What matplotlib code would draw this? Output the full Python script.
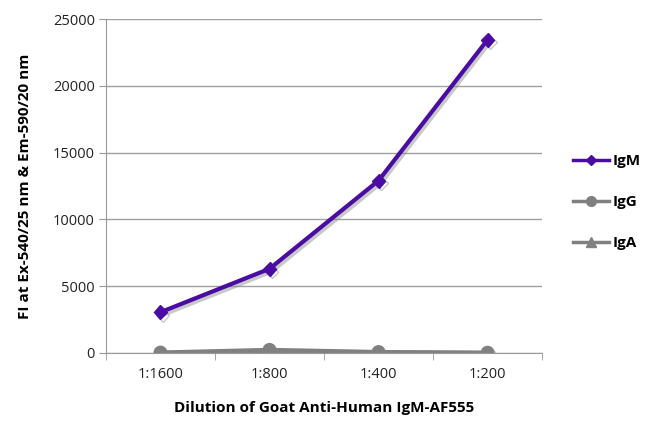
import matplotlib
matplotlib.use("Agg")
import matplotlib.pyplot as plt
import matplotlib.patheffects as pe
from matplotlib.lines import Line2D
import numpy as np

plt.rcParams['font.family'] = ['Open Sans', 'DejaVu Sans']

dilutions = ['1:1600', '1:800', '1:400', '1:200']
igm = [3050, 6300, 12900, 23450]
igg = [30, 230, 70, 20]
iga = [0, 120, 30, 0]

purple = '#4a0ca3'
gray = '#808080'
shadow = [pe.SimpleLineShadow(offset=(1.5, -2), shadow_color='#888888', alpha=0.45), pe.Normal()]

fig = plt.figure(figsize=(6.5, 4.32), dpi=100)
ax = fig.add_axes([0.163, 0.183, 0.671, 0.773])

x = np.arange(len(dilutions))
ax.plot(x, iga, color=gray, lw=3, marker='^', ms=8, path_effects=shadow, zorder=3)
ax.plot(x, igg, color=gray, lw=3, marker='o', ms=9, path_effects=shadow, zorder=4)
ax.plot(x, igm, color=purple, lw=3, marker='D', ms=7, path_effects=shadow, zorder=5)

ax.set_xlim(-0.5, len(dilutions) - 0.5)
ax.set_ylim(0, 25000)
ax.set_yticks(np.arange(0, 25001, 5000))
ax.set_xticks(x)
ax.set_xticklabels(dilutions)
ax.set_xticks(np.arange(-0.5, len(dilutions), 1), minor=True)
ax.tick_params(axis='x', which='major', length=0, labelsize=10.5, pad=10)
ax.tick_params(axis='x', which='minor', length=5, color='#999999', direction='out')
ax.tick_params(axis='y', length=5, color='#999999', labelsize=10.5, pad=3)
for lbl in ax.get_yticklabels() + ax.get_xticklabels():
    lbl.set_color('#222222')

ax.grid(axis='y', color='#a0a0a0', lw=1)
ax.set_axisbelow(True)
for s in ['top', 'right']:
    ax.spines[s].set_visible(False)
ax.spines['left'].set_color('#999999')
ax.spines['bottom'].set_color('#999999')

ax.set_xlabel('Dilution of Goat Anti-Human IgM-AF555', fontsize=11, fontweight='bold', labelpad=14)
ax.set_ylabel('FI at Ex-540/25 nm & Em-590/20 nm', fontsize=11, fontweight='bold', labelpad=15)

handles = [
    Line2D([], [], color=purple, lw=2.5, marker='D', ms=5),
    Line2D([], [], color=gray, lw=2.5, marker='o', ms=7),
    Line2D([], [], color=gray, lw=2.5, marker='^', ms=7),
]
fig.legend(handles, ['IgM', 'IgG', 'IgA'], loc='center left', bbox_to_anchor=(0.86, 0.532),
           frameon=False, handlelength=2.4, labelspacing=1.75, handletextpad=0.2,
           prop={'weight': 'bold', 'size': 11})

fig.savefig('out.png', dpi=100)
